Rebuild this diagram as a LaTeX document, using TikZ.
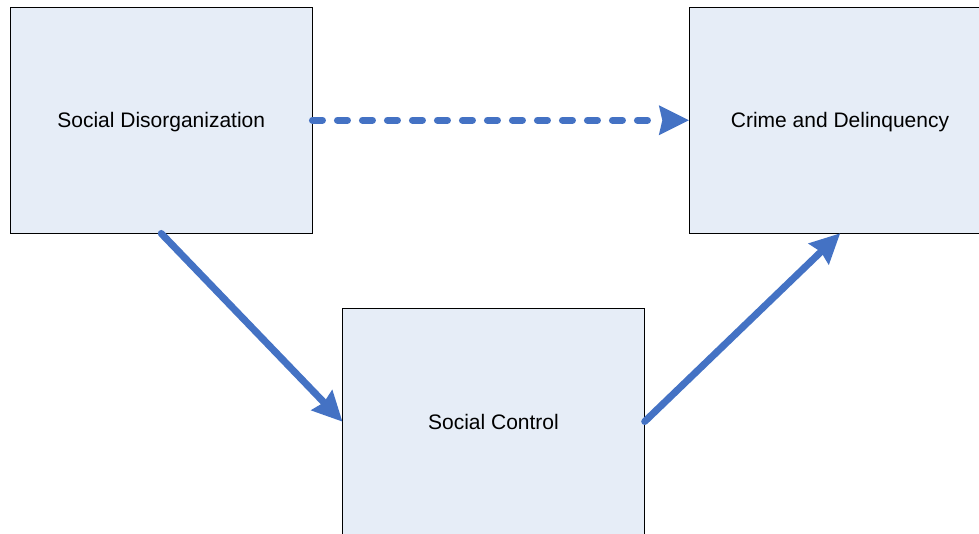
\documentclass[tikz,border=0pt]{standalone}
\usepackage{fontspec}
\setmainfont{Liberation Sans}
\usetikzlibrary{arrows.meta}
\definecolor{boxfill}{HTML}{E6EDF7}
\definecolor{linkblue}{HTML}{4472C4}
\tikzset{
  conceptbox/.style={draw=black, line width=0.9pt, fill=boxfill,
    minimum width=301.5pt, minimum height=225.5pt, inner sep=0pt,
    text height=15pt, text depth=0pt,
    font=\fontsize{21}{25}\selectfont},
  linkarrow/.style={draw=linkblue, line width=7pt, line cap=round,
    -{Stealth[length=30pt, width=30pt, inset=3.5pt, line width=0pt]}},
  weaklink/.style={linkarrow, dash pattern=on 10pt off 15pt}
}
\begin{document}
\begin{tikzpicture}[x=1pt, y=1pt]
  \clip (0,0) rectangle (979,-533);
  \fill[white] (0,0) rectangle (979,-533);
  \node[conceptbox] (sd) at (161.25,-120.25) {Social Disorganization};
  \node[conceptbox] (cd) at (840,-120.25) {Crime and Delinquency};
  \node[conceptbox, minimum height=227pt] (sc) at (493.5,-421.5) {Social Control};
  \draw[weaklink] (sd.east) -- (cd.west);
  \draw[linkarrow] (sd.south) -- (sc.west);
  \draw[linkarrow] (sc.east) -- (cd.south);
\end{tikzpicture}
\end{document}
